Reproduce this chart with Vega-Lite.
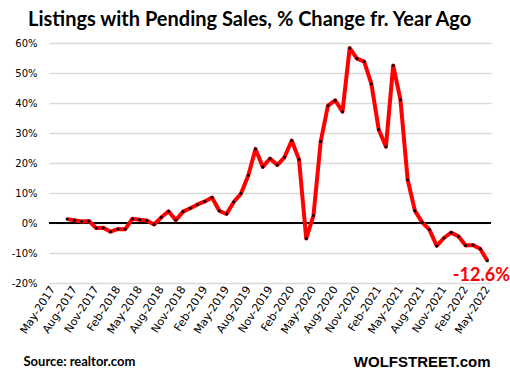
{
  "$schema": "https://vega.github.io/schema/vega-lite/v6.json",
  "autosize": "none",
  "width": 442,
  "height": 240,
  "padding": {"left": 49, "top": 43, "right": 19, "bottom": 94},
  "background": "white",
  "title": {
    "text": "Listings with Pending Sales, % Change fr. Year Ago",
    "anchor": "start",
    "frame": "group",
    "dx": -21,
    "offset": 8,
    "font": "Lato",
    "fontSize": 20,
    "fontWeight": "bold",
    "color": "#000000"
  },
  "config": {
    "view": {"stroke": null},
    "axis": {"labelFont": "DejaVu Sans", "labelFontSize": 10, "labelColor": "#000000"}
  },
  "data": {
    "values": [
      {"month": "Jul-2017", "pct": 1.3},
      {"month": "Aug-2017", "pct": 0.9},
      {"month": "Sep-2017", "pct": 0.5},
      {"month": "Oct-2017", "pct": 0.7},
      {"month": "Nov-2017", "pct": -1.7},
      {"month": "Dec-2017", "pct": -1.6},
      {"month": "Jan-2018", "pct": -2.9},
      {"month": "Feb-2018", "pct": -2.0},
      {"month": "Mar-2018", "pct": -2.1},
      {"month": "Apr-2018", "pct": 1.4},
      {"month": "May-2018", "pct": 1.1},
      {"month": "Jun-2018", "pct": 0.8},
      {"month": "Jul-2018", "pct": -0.5},
      {"month": "Aug-2018", "pct": 1.9},
      {"month": "Sep-2018", "pct": 3.9},
      {"month": "Oct-2018", "pct": 0.9},
      {"month": "Nov-2018", "pct": 3.8},
      {"month": "Dec-2018", "pct": 4.9},
      {"month": "Jan-2019", "pct": 6.2},
      {"month": "Feb-2019", "pct": 7.2},
      {"month": "Mar-2019", "pct": 8.5},
      {"month": "Apr-2019", "pct": 4.1},
      {"month": "May-2019", "pct": 3.0},
      {"month": "Jun-2019", "pct": 7.0},
      {"month": "Jul-2019", "pct": 9.8},
      {"month": "Aug-2019", "pct": 15.8},
      {"month": "Sep-2019", "pct": 24.7},
      {"month": "Oct-2019", "pct": 18.7},
      {"month": "Nov-2019", "pct": 21.5},
      {"month": "Dec-2019", "pct": 19.3},
      {"month": "Jan-2020", "pct": 21.9},
      {"month": "Feb-2020", "pct": 27.5},
      {"month": "Mar-2020", "pct": 21.2},
      {"month": "Apr-2020", "pct": -5.2},
      {"month": "May-2020", "pct": 2.5},
      {"month": "Jun-2020", "pct": 27.2},
      {"month": "Jul-2020", "pct": 39.1},
      {"month": "Aug-2020", "pct": 40.9},
      {"month": "Sep-2020", "pct": 37.1},
      {"month": "Oct-2020", "pct": 58.3},
      {"month": "Nov-2020", "pct": 54.8},
      {"month": "Dec-2020", "pct": 53.8},
      {"month": "Jan-2021", "pct": 46.3},
      {"month": "Feb-2021", "pct": 31.2},
      {"month": "Mar-2021", "pct": 25.4},
      {"month": "Apr-2021", "pct": 52.5},
      {"month": "May-2021", "pct": 41.1},
      {"month": "Jun-2021", "pct": 14.4},
      {"month": "Jul-2021", "pct": 4.1},
      {"month": "Aug-2021", "pct": 0.2},
      {"month": "Sep-2021", "pct": -2.2},
      {"month": "Oct-2021", "pct": -7.6},
      {"month": "Nov-2021", "pct": -5.0},
      {"month": "Dec-2021", "pct": -3.2},
      {"month": "Jan-2022", "pct": -4.4},
      {"month": "Feb-2022", "pct": -7.5},
      {"month": "Mar-2022", "pct": -7.3},
      {"month": "Apr-2022", "pct": -8.6},
      {"month": "May-2022", "pct": -12.6}
    ]
  },
  "encoding": {
    "x": {
      "field": "month",
      "type": "ordinal",
      "sort": null,
      "scale": {
        "type": "point",
        "padding": 0.5,
        "domain": ["May-2017","Jun-2017","Jul-2017","Aug-2017","Sep-2017","Oct-2017","Nov-2017","Dec-2017","Jan-2018","Feb-2018","Mar-2018","Apr-2018","May-2018","Jun-2018","Jul-2018","Aug-2018","Sep-2018","Oct-2018","Nov-2018","Dec-2018","Jan-2019","Feb-2019","Mar-2019","Apr-2019","May-2019","Jun-2019","Jul-2019","Aug-2019","Sep-2019","Oct-2019","Nov-2019","Dec-2019","Jan-2020","Feb-2020","Mar-2020","Apr-2020","May-2020","Jun-2020","Jul-2020","Aug-2020","Sep-2020","Oct-2020","Nov-2020","Dec-2020","Jan-2021","Feb-2021","Mar-2021","Apr-2021","May-2021","Jun-2021","Jul-2021","Aug-2021","Sep-2021","Oct-2021","Nov-2021","Dec-2021","Jan-2022","Feb-2022","Mar-2022","Apr-2022","May-2022"]
      },
      "axis": {
        "values": ["May-2017","Aug-2017","Nov-2017","Feb-2018","May-2018","Aug-2018","Nov-2018","Feb-2019","May-2019","Aug-2019","Nov-2019","Feb-2020","May-2020","Aug-2020","Nov-2020","Feb-2021","May-2021","Aug-2021","Nov-2021","Feb-2022","May-2022"],
        "labelAngle": -57,
        "labelAlign": "right",
        "labelBaseline": "middle",
        "labelPadding": 4,
        "labelFontSize": 11,
        "ticks": false,
        "domain": false,
        "grid": false,
        "labelOverlap": false,
        "title": "Source: realtor.com",
        "titleFont": "Lato",
        "titleFontSize": 13,
        "titleFontWeight": "bold",
        "titleColor": "#000000",
        "titleAnchor": "start",
        "titleAlign": "left",
        "titleBaseline": "middle",
        "titleX": -26,
        "titleY": 78
      }
    },
    "y": {
      "field": "pct",
      "type": "quantitative",
      "scale": {"domain": [-20, 60], "nice": false},
      "axis": {
        "values": [-20, -10, 0, 10, 20, 30, 40, 50, 60],
        "labelExpr": "datum.value + '%'",
        "ticks": false,
        "domain": false,
        "gridColor": "#d9d9d9",
        "gridWidth": 1.5,
        "labelPadding": 12,
        "title": "WOLFSTREET.com",
        "titleFont": "Liberation Sans",
        "titleFontSize": 15,
        "titleFontWeight": "bold",
        "titleColor": "#000000",
        "titleAngle": 0,
        "titleAlign": "right",
        "titleBaseline": "middle",
        "titleX": 441,
        "titleY": 318
      }
    }
  },
  "layer": [
    {
      "mark": {"type": "rule", "color": "#000000", "strokeWidth": 1.2},
      "encoding": {"y": {"datum": 0}, "x": null}
    },
    {
      "mark": {"type": "line", "color": "#ff0000", "strokeWidth": 4, "strokeJoin": "round"}
    },
    {
      "mark": {"type": "point", "filled": true, "color": "#000000", "size": 9, "opacity": 1}
    },
    {
      "transform": [{"filter": "datum.month === 'May-2022'"}],
      "mark": {"type": "text", "color": "#ff0000", "font": "Lato", "fontSize": 18, "fontWeight": "bold", "dx": -6, "dy": 15, "align": "center", "baseline": "middle"},
      "encoding": {"text": {"value": "-12.6%"}}
    }
  ]
}
